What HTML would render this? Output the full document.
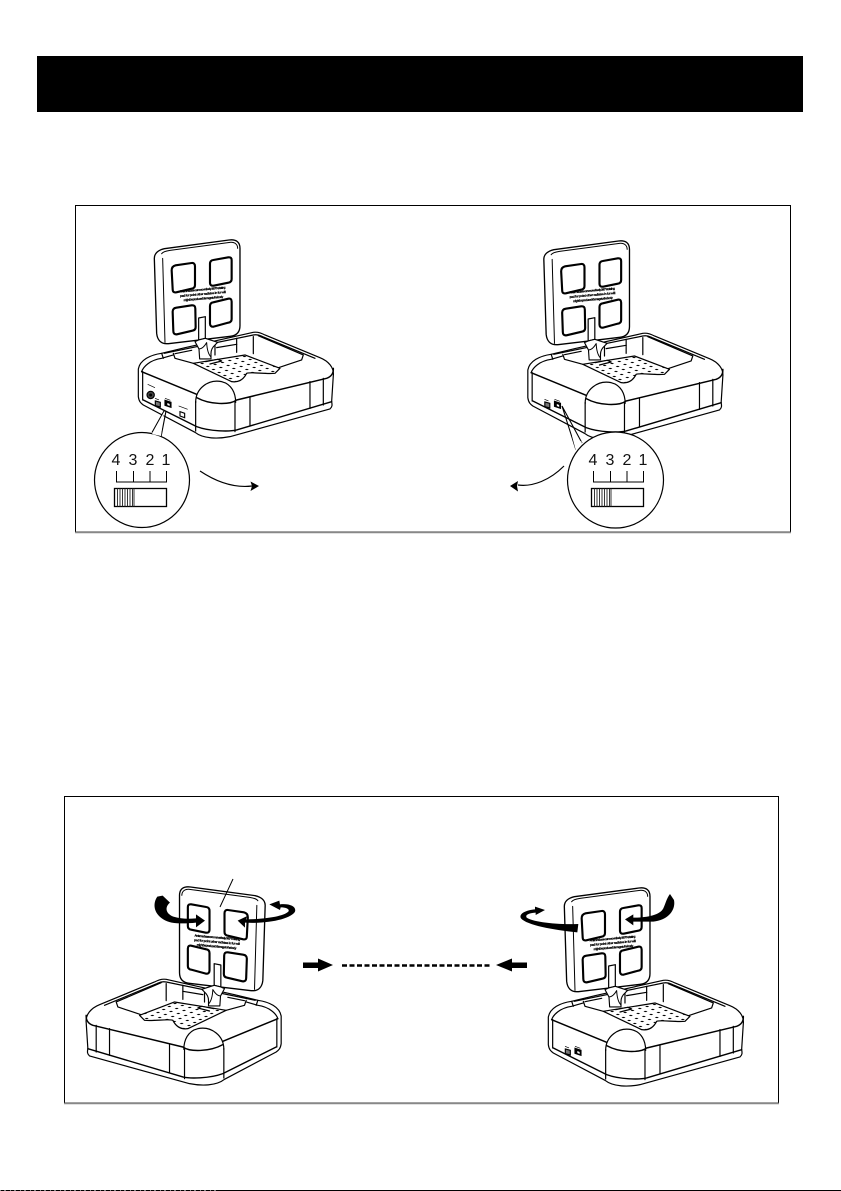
<!DOCTYPE html>
<html><head><meta charset="utf-8"><style>html,body{margin:0;padding:0;background:#fff}svg{display:block}text{font-family:"Liberation Sans",sans-serif}.t{stroke:#000;stroke-width:.2}</style></head><body>
<svg width="841" height="1191" viewBox="0 0 841 1191" xmlns="http://www.w3.org/2000/svg">
<defs>
<pattern id="dots" patternUnits="userSpaceOnUse" width="1" height="1" patternTransform="matrix(22 -6 17 9 0 0)"><rect width="1" height="1" fill="#fff"/><circle cx=".5" cy=".5" r=".17" fill="#000"/></pattern>
<g id="base" fill="none" stroke="#000" stroke-width="3.600" stroke-linejoin="round" stroke-linecap="round">
<path fill="#fff" d="M190 492C195 465 225 450 260 445L330 428L535 382C550 380 560 385 570 390L735 458C760 468 778 488 775 512L770 590C772 600 772 606 765 612L465 695C430 702 385 702 360 682L205 600C198 595 192 590 190 575Z"/>
<path d="M200 500C205 485 225 465 260 460L295 450M260 445L265 460"/>
<path d="M268 445L535 390C545 388 552 390 565 396L720 460"/>
<path d="M295 445L300 460L355 475M550 392L685 450L680 465L635 480L605 490M420 412V450M485 400V442M535 395V446"/>
<path d="M300 446L350 436M425 428L485 418"/>
<path fill="url(#dots)" d="M355 475L510 450L615 490L600 505C570 508 530 500 515 505C505 525 490 533 470 530Z"/>
<path d="M392 470L428 463L440 468L405 477" fill="#fff"/>
<path d="M200 500L365 568" stroke-width="4.400"/>
<path fill="#fff" stroke="none" d="M362 592C362 550 400 522 440 530C470 537 482 565 482 592C450 600 395 600 362 580Z"/>
<path d="M362 592C362 550 400 522 440 530C470 537 482 565 482 592"/>
<path d="M365 578C405 600 465 600 485 585L755 520C768 515 776 505 775 490" stroke-width="4.400"/>
<path d="M203 500V585M362 590V678M480 590V680M525 578V662M705 530V610M745 520V600"/>
<path d="M205 585L365 665C405 680 465 680 485 675L770 590" stroke-width="4.200"/>
</g>
<g id="panel" stroke="#000" stroke-linejoin="round" stroke-linecap="round">
<path fill="#fff" stroke-width="4" d="M238 160C238 145 250 135 268 131L462 105C484 102 495 112 495 130L495 362C495 382 484 392 466 394L280 416C258 418 247 405 245 385Z"/>
<path fill="none" stroke-width="3" d="M260 146C264 140 272 138 285 136L465 112C480 111 488 118 488 130M263 160L270 412"/>
<g fill="none" stroke-width="6.400">
<path d="M290 196C290 187 294 183 302 181L350 174C356 173 360 177 360 184L360 240C360 247 357 250 350 251L304 262C296 263 293 260 293 252Z"/>
<path d="M405 176C405 170 408 166 415 165L460 157C467 156 470 159 470 166L470 222C470 229 467 232 460 233L416 242C409 243 405 240 405 233Z"/>
<path d="M293 320C293 313 297 309 304 308L350 301C358 300 361 304 361 311L362 366C362 372 359 376 352 377L306 388C298 389 295 385 295 378Z"/>
<path d="M405 303C405 297 408 293 415 292L460 281C467 280 470 283 470 290L470 342C470 349 467 352 460 353L416 365C409 366 405 362 405 356Z"/>
</g>
<path fill="#fff" stroke-width="3.600" d="M371 339L391 335V400L371 405Z"/>
<path fill="#fff" stroke-width="3.400" d="M360 410L371 405L391 400L428 412L420 420C411 428 408 436 408 445V462H374L372 432Z"/>
<path fill="none" stroke-width="3" d="M395 413C396 432 400 448 408 456M372 432C380 432 388 425 395 413"/>
</g>
<g id="ports" fill="none" stroke="#000" stroke-width="3.400">
<path d="M241 588L256 592V606L241 602Z" fill="#777"/>
<path d="M270 586L288 592V607L270 601Z" fill="#000"/><path d="M277 594L284 597V603L277 600Z" fill="#fff" stroke="none"/>
<path d="M270 580L286 586M240 580L252 585" stroke-width="2"/>
</g>
<g id="sw" fill="none" stroke="#000" stroke-width="1">
<path d="M0 0V11H50V0M17 0V11M33.500 0V11"/>
<rect x="-2" y="17.500" width="52" height="18" stroke-width="1.300"/>
<path d="M1 17.500V35.500M3.500 17.500V35.500M6 17.500V35.500M8.500 17.500V35.500M11 17.500V35.500M13.500 17.500V35.500M16 17.500V35.500M17.500 17.500V35.500" stroke-width=".9" stroke="#222"/>
</g>
</defs>
<rect width="841" height="1191" fill="#fff"/>
<rect x="37" y="56" width="766" height="56" fill="#000"/>
<rect x="75.500" y="205.500" width="715" height="326.500" fill="#fff" stroke="#000" stroke-width="1"/>
<path d="M75 532.500H791" stroke="#888" stroke-width="1.500"/>
<rect x="64.500" y="796.500" width="714" height="306.500" fill="#fff" stroke="#000" stroke-width="1"/>
<path d="M64 1103.500H779" stroke="#888" stroke-width="1.500"/>

<!-- Device top-left -->
<g transform="translate(75 205) scale(.3333)">
<use href="#base"/><use href="#panel"/><use href="#ports"/>
<circle cx="227" cy="570" r="11" fill="#444" stroke="#000" stroke-width="3.400"/>
<circle cx="227" cy="570" r="4.500" fill="#000"/>
<path d="M315 620L329 625V638L315 633Z" fill="#fff" stroke="#000" stroke-width="3.400"/>
<path d="M311 603L338 613M218 538L240 548" stroke="#000" stroke-width="2" fill="none"/>
</g>
<g class="t" transform="translate(203 294) rotate(-5)" font-size="3.200" font-weight="700" text-anchor="middle"><text y="-3.500" textLength="46">Antenna base can move freely 360° Rotating</text><text y="1" textLength="46">pad for point other radiates in fur will</text><text y="5.500" textLength="40">might be produced damage to the body</text></g>
<path d="M164 411L152 432.500M166 411L161 437" stroke="#000" stroke-width="1.100" fill="none"/>
<circle cx="142" cy="480" r="47.500" fill="#fff" stroke="#000" stroke-width="1.200"/>
<path d="M152 434L164 412L161 436" fill="#fff"/>
<g font-size="16" text-anchor="middle" fill="#111"><text x="116" y="465">4</text><text x="133" y="465">3</text><text x="150" y="465">2</text><text x="166" y="465">1</text></g>
<use href="#sw" x="116.500" y="471"/>
<path d="M200 471C218 483 235 488 252 486" fill="none" stroke="#000" stroke-width="1.200"/>
<path d="M259 486L250.500 481.500L252 486L250.500 491Z"/>

<!-- Device top-right -->
<g transform="translate(464.500 206) scale(.3333)">
<use href="#base"/><use href="#panel"/><use href="#ports"/>
</g>
<g class="t" transform="translate(592.500 295) rotate(-5)" font-size="3.200" font-weight="700" text-anchor="middle"><text y="-3.500" textLength="46">Antenna base can move freely 360° Rotating</text><text y="1" textLength="46">pad for point other radiates in fur will</text><text y="5.500" textLength="40">might be produced damage to the body</text></g>
<path d="M562 406L576 450M562 406L582 443" stroke="#000" stroke-width="1.100" fill="none"/>
<circle cx="615.500" cy="480" r="48" fill="#fff" stroke="#000" stroke-width="1.200"/>
<path d="M576 451L582 442L572 436Z" fill="#fff"/>
<g font-size="16" text-anchor="middle" fill="#111"><text x="593" y="465">4</text><text x="610" y="465">3</text><text x="627" y="465">2</text><text x="643" y="465">1</text></g>
<use href="#sw" x="593.500" y="471"/>
<path d="M564 466C550 480 533 487 518 485" fill="none" stroke="#000" stroke-width="1.200"/>
<path d="M510 486L518 481L517 486L518 491.500Z"/>

<!-- Device bottom-left (mirrored) -->
<g transform="translate(344.500 852) scale(-.3333 .3333)">
<use href="#base"/><use href="#panel"/>
</g>
<g class="t" transform="translate(217 942) rotate(5)" font-size="3.200" font-weight="700" text-anchor="middle"><text y="-3.500" textLength="46">Antenna base can move freely 360° Rotating</text><text y="1" textLength="46">pad for point other radiates in fur will</text><text y="5.500" textLength="40">might be produced damage to the body</text></g>
<path d="M233 879L220 907" stroke="#000" fill="none"/>
<g transform="translate(70 850) scale(.3333)">
<path d="M262 140L278 137L300 158C285 170 285 190 310 200C335 207 355 207 378 205L378 193L405 212L378 232L378 218C340 222 300 222 280 208C250 190 248 160 262 140Z"/>
<path d="M503 212L532 198L528 208C580 208 640 200 655 185C660 178 650 172 632 172L630 180L598 163L628 152L630 163C660 160 680 170 675 185C665 205 600 222 525 218L525 233Z"/>
</g>

<!-- Device bottom-right -->
<g transform="translate(485 853) scale(.3333)">
<use href="#base"/><use href="#panel"/><use href="#ports"/>
</g>
<g class="t" transform="translate(613 943) rotate(-5)" font-size="3.200" font-weight="700" text-anchor="middle"><text y="-3.500" textLength="46">Antenna base can move freely 360° Rotating</text><text y="1" textLength="46">pad for point other radiates in fur will</text><text y="5.500" textLength="40">might be produced damage to the body</text></g>
<g transform="translate(490 850) scale(.3333)">
<path d="M540 132L552 150C558 180 535 210 490 215L430 215L430 226L405 208L430 193L430 203C470 203 510 195 520 175C527 160 530 145 540 132Z"/>
<path d="M265 222L262 247C190 240 110 225 93 205C85 190 110 180 135 178L135 170L165 180L137 195L137 188C115 190 105 195 110 203C125 215 200 225 265 222Z"/>
</g>

<!-- Center dashed link -->
<path d="M303 965H318V958.500L333 965L318 971.500V965Z" fill="#000"/>
<rect x="303" y="962.500" width="16" height="5.500"/>
<path d="M342 965.500H490" stroke="#000" stroke-width="2.600" stroke-dasharray="5 2.500" fill="none"/>
<path d="M496 965L512 958.500V971.500Z"/>
<rect x="511" y="962.500" width="16" height="5.500"/>

<!-- Bottom edge scan line -->
<rect x="0" y="1190" width="841" height="1" fill="#000"/>
<path d="M0 1190.500H220" stroke="#fff" stroke-width="1" stroke-dasharray="1 3 2 4" opacity=".5"/>
</svg>
</body></html>
